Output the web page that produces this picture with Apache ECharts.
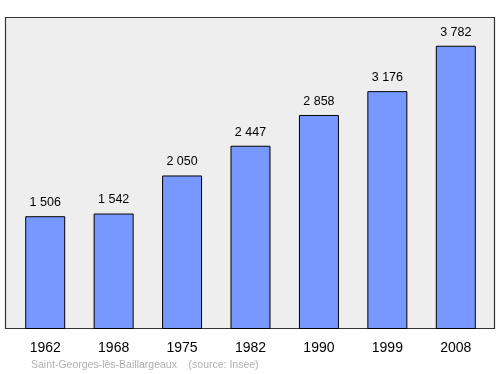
<!DOCTYPE html>
<html><head><meta charset="utf-8">
<script src="https://cdn.jsdelivr.net/npm/echarts@6/dist/echarts.min.js"></script>
<style>html,body{margin:0;padding:0;background:#fff}#c{width:500px;height:374px}</style>
</head><body><div id="c"></div>
<script>
var years = ['1962','1968','1975','1982','1990','1999','2008'];
var population = [1506, 1542, 2050, 2447, 2858, 3176, 3782];
var labels = ['1 506','1 542','2 050','2 447','2 858','3 176','3 782'];
var sourceText = 'Saint-Georges-lès-Baillargeaux    (source: Insee)';

var chart = echarts.init(document.getElementById('c'), null, {renderer:'canvas'});
chart.setOption({
  animation: false,
  graphic: [
    {type:'rect', shape:{x:5.5, y:17.5, width:489, height:311}, style:{fill:'#eeeeee', stroke:'#333', lineWidth:1.2}, z:-10},
    {type:'text', left:31, top:360, style:{text:sourceText, fill:'#b0b0b0', font:'10.5px "Liberation Sans", Arial, sans-serif'}}
  ],
  grid: {left:11, right:10, top:17, bottom:45},
  xAxis: {
    type:'category', data: years,
    axisLine:{show:false}, axisTick:{show:false},
    axisLabel:{color:'#000', fontSize:14, fontFamily:'"Liberation Sans", Arial, sans-serif', margin:12}
  },
  yAxis: {type:'value', min:0, max:4166, show:false, splitLine:{show:false}},
  series: [{
    type:'bar', data: population, barWidth:40,
    itemStyle:{color:'#7799ff', borderColor:'#000', borderWidth:1},
    label:{show:true, position:'top', distance:7, color:'#000', fontSize:12.5,
      fontFamily:'"Liberation Sans", Arial, sans-serif',
      formatter:function(p){return labels[p.dataIndex];}}
  }]
});
</script></body></html>
